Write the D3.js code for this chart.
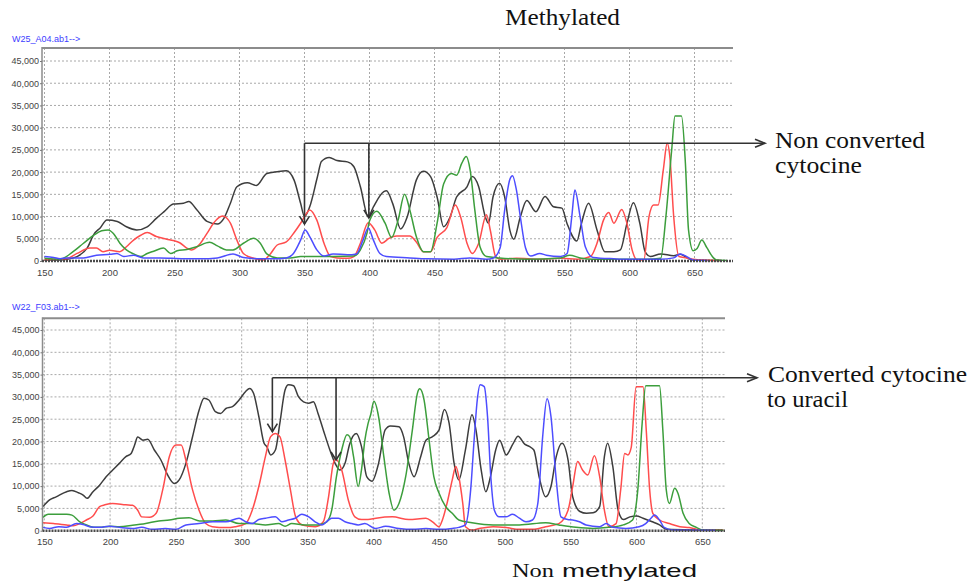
<!DOCTYPE html>
<html><head><meta charset="utf-8">
<script src="https://cdn.jsdelivr.net/npm/d3@7"></script>
<style>body{margin:0;background:#fff} svg{display:block}</style>
</head><body>
<svg id="c" width="970" height="585"></svg>
<script>
const xTicks = [150,200,250,300,350,400,450,500,550,600,650];
const yTicks = [0,5000,10000,15000,20000,25000,30000,35000,40000,45000];
const sampleTop = "W25_A04.ab1-->";
const sampleBottom = "W22_F03.ab1-->";

const topBlack = [[150,200],[165,300],[175,1000],[183,3000],[188,6000],[193,7500],[198,9200],[206,8900],[213,7700],[221,7000],[229,7700],[236,9600],[242,11100],[249,12800],[257,13000],[261,13400],[267,11600],[275,8900],[283,8300],[288,9600],[293,13000],[298,16700],[306,17600],[313,17000],[321,19700],[329,20100],[336,20300],[342,18200],[347,13000],[350,10000],[354,12200],[360,19000],[363,22400],[369,23300],[375,22600],[383,22300],[388,21200],[393,16700],[399,10000],[403,12200],[411,15600],[413,15800],[418,12800],[424,7200],[429,9900],[436,18200],[441.5,20200],[447,19000],[452,14400],[457,7700],[462,9900],[467,14400],[475,16700],[479,19000],[484,16700],[489,10000],[491.5,8500],[495,14400],[500,17500],[504,14400],[508,6900],[511,4900],[516,9900],[521,13600],[528,11100],[535,14500],[541.5,12200],[548,11900],[552,8400],[559.5,4500],[563,8400],[568.5,13000],[575,7000],[581,2100],[588,2100],[593,2500],[598,8400],[603,13100],[608,8400],[612,2100],[616,1000],[624,1600],[634,1200],[639,1500],[645,600],[650,200],[670,100]];
const topRed = [[150,300],[167,500],[175,1700],[185,2900],[190,2900],[195,2100],[200,2400],[208,2100],[213,3200],[218.5,4700],[224,5800],[229,6400],[236,5500],[244,4900],[249,4600],[254,4100],[259.5,2900],[263,2500],[270,4000],[275,6200],[280,8500],[287,10100],[293,8500],[298,4700],[303,1700],[311,600],[318.5,200],[324,1700],[329,3600],[336,4300],[341.5,6200],[347,8500],[352,10900],[354,11500],[359.5,9200],[365,4000],[370,1000],[375,700],[383,600],[388,1000],[393,4000],[399,8600],[404,7000],[409.5,4000],[415,5100],[421,5600],[431,5600],[436,4300],[441.5,2100],[447,2100],[452,5300],[459.5,7500],[466,12600],[470,10000],[475,4000],[479,1700],[484,4000],[490,10400],[493,6800],[497,1000],[500.5,400],[513,600],[531,400],[547,600],[560,400],[570,1000],[575,4000],[580,9200],[584,10900],[588,8500],[594,11600],[598,8500],[602,2500],[606,200],[611,200],[615,10000],[618.5,12600],[622,12600],[626,20500],[629,26500],[631,23600],[634,10000],[638,1000],[644,700],[649,400],[657,200],[670,100]];
const topGreen = [[150,600],[162,400],[172,2100],[180,4000],[188,5800],[194,6800],[199,7000],[203,6200],[208,4000],[213,2500],[218.5,1600],[224,1000],[229,1700],[234,2200],[241.5,2900],[247,1700],[252,2300],[259.5,2600],[267,3200],[277,4200],[283,3400],[290,2500],[295,2500],[303,4000],[311,5100],[316,4000],[321,1600],[329,700],[339,700],[347,1000],[360,1000],[372,1000],[388,1100],[393,2500],[398,6200],[400,9000],[405.6,11200],[412,8500],[417,5300],[422,9200],[427,15000],[431,11500],[436,5500],[441.5,2100],[447,2100],[452,8500],[457,17300],[463,19700],[467,19300],[471,22000],[474.4,23500],[477.4,20500],[481,11500],[485,3200],[490,1000],[500,700],[521,400],[547,700],[554,1300],[562,700],[572,400],[598,400],[613,400],[624,600],[628,10000],[632.6,25500],[635,32600],[640,32600],[643,22000],[645.4,7000],[649,2300],[652,2800],[655.6,4700],[659.5,3000],[664.6,700],[667,200],[675,100]];
const topBlue = [[150,1000],[157,800],[162,500],[167,700],[180,700],[190,1300],[200.5,1500],[205.6,1700],[211,1000],[218.5,1300],[226,700],[239,700],[257,500],[270,500],[283,700],[295,1600],[303,800],[316,500],[326,500],[336,700],[341.5,1700],[347,4700],[350.5,7000],[354,5500],[359.5,2500],[365,1100],[372,1600],[383,1400],[390,1600],[395,4700],[399,7400],[403,4700],[408,1700],[413,1000],[431,700],[444,500],[465,400],[477,700],[490,400],[495,600],[500.5,3000],[504,11500],[508,18400],[510,19200],[513,16000],[516,10000],[520,3000],[524,1100],[531,1700],[536,1300],[547,1000],[552,1700],[555.6,10000],[558,16000],[562,10000],[566,3200],[572,800],[588,500],[598,400],[624,400],[634,700],[639,1600],[644,1000],[649,200],[660,100]];

const botBlack = [[149,5400],[154,6900],[159,7600],[167,8750],[171,9000],[176,8500],[179.5,8000],[182.5,7250],[187,8750],[192,10200],[197,12100],[202,13600],[207,15100],[212,16600],[216,17300],[218.5,19100],[221,21000],[225,20300],[228.6,20500],[233.6,18100],[238.7,15800],[243.7,12500],[248.7,10600],[252.5,11400],[257.6,15100],[262.6,21000],[267.6,27000],[271.4,29700],[275,29300],[280,26700],[284,26300],[288,27400],[293,27800],[298,29300],[303,31200],[306,31900],[309,30800],[313,25600],[317,19600],[319,18900],[322,17000],[325.6,18100],[329,24100],[333,31600],[335.6,32700],[339.4,32500],[343,30100],[347,28900],[351,28600],[354.5,28900],[358,26300],[362,22600],[367,18100],[371,15100],[374.7,13600],[378.5,15100],[382,19400],[387,21800],[391,18900],[395,12100],[399,11100],[404,15100],[409,22600],[413,23500],[419.5,23300],[423,21100],[427,15100],[431,12100],[436,16600],[440,20300],[445,21100],[450,22600],[454,27200],[457.6,24100],[461.4,15100],[465,11400],[470,18100],[475,26000],[478,22600],[482,13600],[485.5,8750],[489,12100],[493,18100],[496,20300],[501,17000],[506,19400],[510,21200],[515,19400],[518.5,18900],[522,18100],[526,12100],[531,7600],[535,9900],[539,16600],[543.4,19600],[548,15800],[551.5,7600],[557,4300],[562,3900],[567,4000],[572,5400],[575.6,16600],[578,19600],[582,14400],[586,4700],[590,2500],[595,3100],[600,3300],[605,2800],[612,2000],[617.5,1300],[623,300],[643,150],[665,100]];
const botRed = [[149,1800],[157,1600],[167,1300],[172,1100],[177,1600],[182,2400],[187,3300],[192,5400],[196,5800],[202,6100],[212,5800],[217,5700],[221,4600],[224,3100],[230,3000],[235,3900],[240,9200],[245,16600],[250,19200],[254,19200],[257.6,15800],[262.6,9200],[267.6,4600],[272.7,1600],[277.7,900],[288,700],[295,900],[303,1600],[308,4600],[313,9900],[318,16600],[322,21100],[325.6,21800],[329,21100],[333,15800],[337,9200],[341,3100],[346,1300],[356,900],[362,2000],[366,7600],[369.6,15100],[371.4,16000],[376,13600],[381,6900],[386,3100],[391,2500],[396,2500],[402,2800],[414.5,3100],[427,2500],[440,2800],[445,2000],[450,900],[452.5,2400],[456,6100],[460,11400],[462.7,14400],[465,12100],[468,6100],[470,900],[475,150],[480.5,500],[491,900],[501,700],[511,300],[521,300],[531,900],[541,1600],[548,4600],[551.5,9900],[555.3,15500],[559,13600],[563,12500],[568,16800],[572,12100],[575.6,4600],[579,900],[584.5,1600],[588,9200],[591,17300],[593.4,17000],[596,18700],[599.7,32300],[605,32300],[607.4,22600],[610,9200],[612.4,3900],[617.5,2400],[625,1600],[633,900],[640,700],[650,150],[666,150]];
const botGreen = [[149,3000],[153,3700],[167,3700],[171,3500],[177,2000],[182,1300],[187,750],[192,750],[200,1000],[207,900],[217,1200],[227,1600],[237,2200],[245,2400],[252.5,2800],[260,2900],[268,2200],[278,2200],[288,2400],[298,1600],[308,1600],[318,1300],[328,1600],[333,1000],[338,1600],[348,1300],[358,1300],[364.6,2000],[368.4,4600],[372,12100],[376,18100],[380,21500],[382,21100],[385,16600],[388.5,9900],[391,13600],[393.6,20300],[396,24000],[398,26000],[400.5,29000],[404,25600],[408,16600],[412,8400],[415.7,4600],[419.5,6100],[424.6,12100],[429.7,22600],[433.5,30800],[435.3,31800],[438.6,29300],[442.4,20300],[446,12100],[450,8400],[455,5400],[460,3900],[465,2400],[475,1800],[491,1300],[511,1300],[531,1800],[541,1300],[554,750],[567,500],[579,750],[590,1300],[597,2400],[601,9200],[604.3,24100],[607,32500],[617.5,32500],[620,22600],[622.6,9200],[625,6100],[629,9500],[631.5,8400],[635.4,3900],[640,1600],[645.5,750],[650.5,150],[666,100]];
const botBlue = [[149,750],[154,500],[161,900],[167,750],[174.5,1600],[179.5,1400],[184.5,900],[192,750],[199.6,1000],[207,750],[217,500],[224,750],[232,300],[242,500],[250,300],[257.6,1300],[267.6,1600],[278,2000],[288,2000],[298,2800],[303,2000],[308,1600],[313,2500],[318,2800],[325.6,3100],[330.5,2000],[335.6,2400],[340.7,2800],[345.7,3700],[351,3100],[355.8,2000],[361,1300],[366,2400],[368.4,2800],[373.5,2800],[378.5,2000],[383.6,1600],[388.5,1300],[393.6,1600],[401.8,500],[409.4,1000],[419.5,500],[430,300],[440,500],[450,300],[460,500],[465,750],[470,1300],[474,9200],[476.6,20300],[479,29300],[481.2,32700],[484.3,32300],[486.8,25600],[489.3,12100],[492,4600],[495.7,3100],[500.8,3100],[505.8,3700],[511,2800],[516,2000],[521,2400],[525,6100],[528.7,21100],[532,29600],[535,25600],[538.8,12100],[542.6,3100],[547.7,2500],[551.5,2400],[556.6,2000],[561.7,1300],[572,900],[577,1600],[582,750],[592,500],[602,900],[607,1600],[611,2800],[613.7,3500],[617.5,2400],[621,750],[628,150],[660,100]];

const colors = {black:"#3d3d3d", red:"#ff4d4d", green:"#3c9e3c", blue:"#4d4dff"};
const svg = d3.select("#c");
const sans = "'Liberation Sans', Arial, sans-serif";
const serif = "'Liberation Serif', 'Times New Roman', serif";

function panel(o){
  const x = d3.scaleLinear().domain([150,650]).range(o.xr);
  const y = d3.scaleLinear().domain([0,45000]).range(o.yr);
  const g = svg.append("g");
  const y0 = y(0);
  // grid
  g.selectAll(".vg").data(xTicks).join("line")
    .attr("x1",d=>x(d)).attr("x2",d=>x(d)).attr("y1",o.top).attr("y2",y0)
    .attr("stroke","#a8a8a8").attr("stroke-width",1).attr("stroke-dasharray","2,2");
  g.selectAll(".hg").data(yTicks.slice(1)).join("line")
    .attr("x1",o.left).attr("x2",o.right).attr("y1",d=>y(d)).attr("y2",d=>y(d))
    .attr("stroke","#a8a8a8").attr("stroke-width",1).attr("stroke-dasharray","2,2");
  // clip
  const cid = "clip"+o.id;
  svg.append("defs").append("clipPath").attr("id",cid).append("rect")
    .attr("x",o.left).attr("y",o.top).attr("width",o.right-o.left).attr("height",y0-o.top+1);
  const line = d3.line().x(d=>x(d[0])).y(d=>y(d[1])).curve(d3.curveMonotoneX);
  const tg = g.append("g").attr("clip-path",`url(#${cid})`);
  o.series.forEach(s=>{
    tg.append("path").datum(s.data).attr("d",line).attr("fill","none")
      .attr("stroke",colors[s.c]).attr("stroke-width",1.5).attr("stroke-linejoin","round");
  });
  // frame
  g.append("line").attr("x1",o.left).attr("x2",o.right).attr("y1",o.top).attr("y2",o.top)
    .attr("stroke","#8c8c8c").attr("stroke-width",2);
  g.append("line").attr("x1",o.left).attr("x2",o.left).attr("y1",o.top-1).attr("y2",y0)
    .attr("stroke","#8c8c8c").attr("stroke-width",1.5);
  g.append("line").attr("x1",o.left).attr("x2",o.right).attr("y1",y0).attr("y2",y0)
    .attr("stroke","#4a4a4a").attr("stroke-width",2.5).attr("stroke-dasharray","2,1");
  // axes
  const ya = g.append("g").attr("transform",`translate(${o.left},0)`)
    .call(d3.axisLeft(y).tickValues(yTicks).tickFormat(d3.format(",")).tickSize(2).tickPadding(1));
  ya.select(".domain").remove();
  ya.selectAll("line").attr("stroke","#777");
  ya.selectAll("text").attr("font-family",sans).attr("font-size",9).attr("fill","#444");
  const xa = g.append("g").attr("transform",`translate(0,${y0})`)
    .call(d3.axisBottom(x).tickValues(xTicks).tickSize(0).tickPadding(8));
  xa.select(".domain").remove();
  xa.selectAll("text").attr("font-family",sans).attr("font-size",9.5).attr("fill","#444");
  // sample label
  svg.append("text").attr("x",12).attr("y",o.labelY).text(o.label)
    .attr("font-family",sans).attr("font-size",9).attr("fill","#3d3dff");
  return {x,y};
}

const P1 = panel({id:1, xr:[44.5,694.5], yr:[261,61], top:48, left:42, right:733, labelY:42, label:sampleTop,
  series:[{c:"black",data:topBlack},{c:"red",data:topRed},{c:"green",data:topGreen},{c:"blue",data:topBlue}]});
const P2 = panel({id:2, xr:[44.3,702.3], yr:[530.7,330], top:318.3, left:42.5, right:725, labelY:310, label:sampleBottom,
  series:[{c:"black",data:botBlack},{c:"red",data:botRed},{c:"green",data:botGreen},{c:"blue",data:botBlue}]});

// annotations
function bracket(P, xs, hv, tips, endX){
  const hy = P.y(hv);
  const a = svg.append("g").attr("stroke","#333").attr("stroke-width",1.6).attr("fill","none");
  a.append("line").attr("x1",P.x(xs[0])).attr("x2",endX).attr("y1",hy).attr("y2",hy);
  a.append("polyline").attr("points",`${endX-10},${hy-4} ${endX},${hy} ${endX-10},${hy+4}`);
  xs.forEach((bx,i)=>{
    const px = P.x(bx), ty = P.y(tips[i]);
    a.append("line").attr("x1",px).attr("x2",px).attr("y1",hy).attr("y2",ty);
    a.append("polyline").attr("points",`${px-5},${ty-8} ${px},${ty} ${px+5},${ty-8}`);
  });
}
bracket(P1,[350,399.5],26500,[8300,9700],765);
bracket(P2,[323.3,371.7],34300,[22200,15850],757);

function label(t,x,y,fs,len,fam){
  svg.append("text").attr("x",x).attr("y",y).text(t).attr("font-family",fam||serif)
    .attr("font-size",fs).attr("fill","#111").attr("textLength",len).attr("lengthAdjust","spacingAndGlyphs");
}
label("Methylated",505,25,23,115);
label("Non converted",775,148,24,150);
label("cytocine",775,173,24,87);
label("Converted cytocine",768,382,24,199);
label("to uracil",767,407,24,81);
label("Non",512,577,18,42);
label("methylated",562,577,19,135,sans);
</script>
</body></html>
